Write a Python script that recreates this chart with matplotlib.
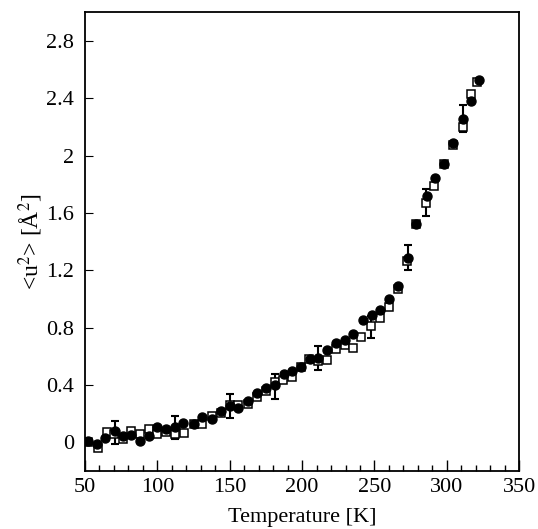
"""Mean square displacement vs temperature."""

import matplotlib.pyplot as plt
from matplotlib.ticker import MultipleLocator

# filled circles
temp_a = [52, 58, 64, 71, 76, 82, 88, 94, 100, 106,
          112, 118, 125, 131, 137.5, 144, 150, 156, 162.5, 169,
          175, 181, 187.5, 193, 199.5, 205.5, 211, 217.5, 223.5, 229.5,
          235.5, 242, 248, 254, 260, 266.5, 273, 279, 286, 292,
          298, 304, 311, 317, 322]
msd_a = [0.01, -0.01, 0.03, 0.08, 0.045, 0.05, 0.01, 0.045, 0.11, 0.095,
         0.11, 0.135, 0.125, 0.18, 0.165, 0.22, 0.25, 0.24, 0.29, 0.345,
         0.38, 0.40, 0.48, 0.50, 0.525, 0.578, 0.59, 0.643, 0.694, 0.717,
         0.757, 0.85, 0.89, 0.92, 1.0, 1.09, 1.286, 1.52, 1.715, 1.843,
         1.943, 2.087, 2.254, 2.377, 2.528]

# open squares
temp_b = [52, 59, 65, 70, 76, 82, 88, 94, 100, 106,
          112, 118.5, 125, 131, 137.5, 144, 150, 156, 162.5, 169,
          175, 181, 187, 193, 199, 205, 211, 217.5, 223.5, 229.5,
          235.5, 241, 247.5, 254, 260, 266.5, 272.5, 279, 285.5, 291,
          298, 304, 311, 317, 321]
msd_b = [0.0, -0.037, 0.07, 0.06, 0.02, 0.079, 0.056, 0.09, 0.056, 0.075,
         0.056, 0.067, 0.125, 0.13, 0.183, 0.207, 0.258, 0.258, 0.265, 0.318,
         0.357, 0.42, 0.434, 0.457, 0.527, 0.578, 0.566, 0.573, 0.648, 0.68,
         0.66, 0.736, 0.81, 0.868, 0.945, 1.07, 1.263, 1.52, 1.67, 1.785,
         1.94, 2.07, 2.2, 2.43, 2.51]

# error bars: (temperature, value, half-width)
err_temp = [71, 112, 150, 181, 211, 247.5, 273, 285.5, 311]
err_msd = [0.07, 0.105, 0.253, 0.39, 0.588, 0.805, 1.29, 1.67, 2.257]
err_size = [0.08, 0.08, 0.086, 0.087, 0.087, 0.075, 0.089, 0.095, 0.096]

plt.rcParams["font.family"] = ["Liberation Serif", "DejaVu Serif"]
plt.rcParams["mathtext.fontset"] = "stix"

fig = plt.figure(figsize=(5.38, 5.29), dpi=100)
ax = fig.add_axes([0.158, 0.1096, 0.807, 0.8675])

ax.errorbar(err_temp, err_msd, yerr=err_size, fmt="none", ecolor="black",
            elinewidth=1.5, capsize=3.2, capthick=1.5, zorder=1)
ax.plot(temp_b, msd_b, "s", ms=6.2, mfc="white", mec="black", mew=1.1, zorder=2)
ax.plot(temp_a, msd_a, "o", ms=6.5, color="black", zorder=3)

ax.set_xlim(50, 350)
ax.set_ylim(-0.2, 3.0)
ax.set_xticks([50, 100, 150, 200, 250, 300, 350])
ax.set_yticks([0, 0.4, 0.8, 1.2, 1.6, 2.0, 2.4, 2.8])
ax.set_yticklabels(["0", "0.4", "0.8", "1.2", "1.6", "2", "2.4", "2.8"])
ax.xaxis.set_minor_locator(MultipleLocator(10))

ax.tick_params(axis="both", which="both", direction="in", top=False, right=False,
               labelsize=16, colors="black")
ax.tick_params(axis="x", which="major", length=8, width=1)
ax.tick_params(axis="x", which="minor", length=4, width=1)
ax.tick_params(axis="y", which="major", length=6, width=0.8, pad=8)
ax.tick_params(axis="x", which="major", pad=5)
for s in ax.spines.values():
    s.set_linewidth(1.3)

ax.set_xlabel("Temperature [K]", fontsize=16, labelpad=8)
ax.set_ylabel(r"<u$^2$> [Å$^2$]", fontsize=17, labelpad=1)

fig.savefig("out.png", dpi=100)
